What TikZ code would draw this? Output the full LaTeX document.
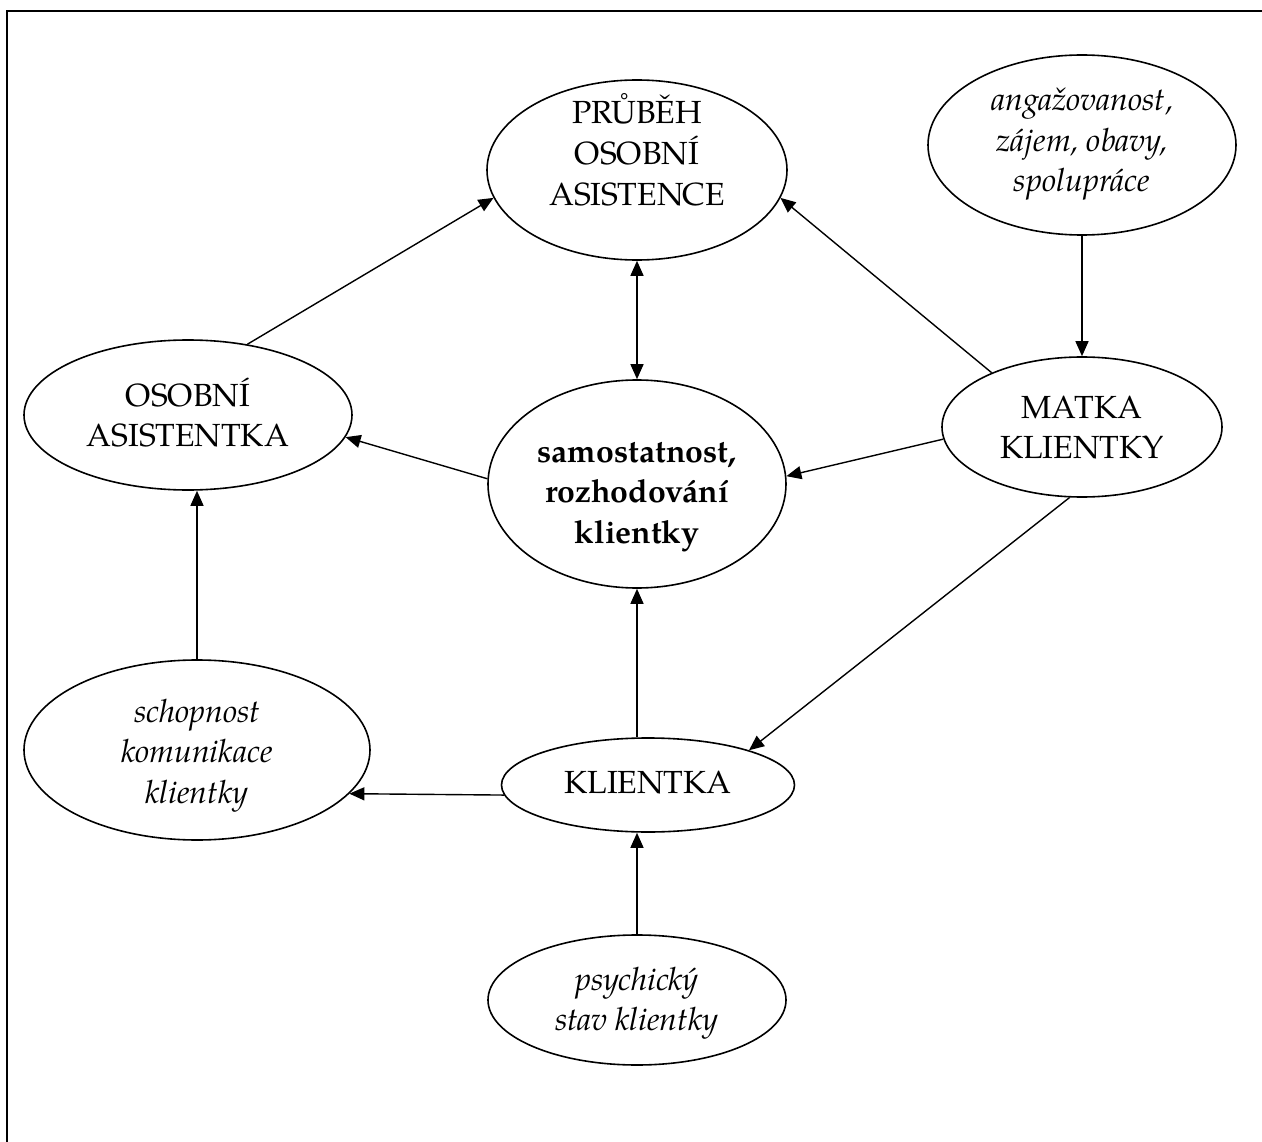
\documentclass[tikz,border=0pt]{standalone}
\usepackage{fontspec}
\setmainfont{TeX Gyre Pagella}
\usetikzlibrary{shapes.geometric,arrows.meta}
\tikzset{
  el/.style={draw, ellipse, line width=1.6pt, inner sep=0pt},
  lbl/.style={anchor=base, inner sep=0pt, font=\fontsize{32}{40.5}\selectfont},
  tip/.tip={Triangle[length=15pt,width=13pt]},
  arr/.style={line width=1.4pt, -tip},
  darr/.style={line width=1.4pt, tip-tip},
}
\newcommand{\lines}[1]{\begin{tabular}[t]{@{}c@{}}#1\end{tabular}}
\begin{document}
\begin{tikzpicture}[x=1pt,y=-1pt]
\useasboundingbox (0,0) rectangle (1262,1142);
\draw[line width=2.5pt] (1262,11) coordinate (tr) -- (7,11) coordinate (tl) -- (7,1142) coordinate (bl);

% ellipses
\node[el, minimum width=300pt, minimum height=180pt] (pa) at (637,170) {};
\node[el, minimum width=308pt, minimum height=180pt] (ang) at (1082,145) {};
\node[el, minimum width=328pt, minimum height=150pt] (oa) at (188,415) {};
\node[el, minimum width=298pt, minimum height=208pt] (sam) at (637,484) {};
\node[el, minimum width=280pt, minimum height=140pt] (mk) at (1082,427) {};
\node[el, minimum width=346pt, minimum height=180pt] (sch) at (197,750) {};
\node[el, minimum width=293pt, minimum height=94pt] (kl) at (648,785) {};
\node[el, minimum width=298pt, minimum height=130pt] (ps) at (637,1000) {};

% texts
\node[lbl] (tpa) at (637,124) {\lines{PRŮBĚH\\OSOBNÍ\\ASISTENCE}};
\node[lbl] (tang) at (1082,111) {\lines{\itshape angažovanost,\\\itshape zájem, obavy,\\\itshape spolupráce}};
\node[lbl] (toa) at (188,406) {\lines{OSOBNÍ\\ASISTENTKA}};
\node[lbl] (tsam) at (637,462) {\lines{\bfseries samostatnost,\\\bfseries rozhodování\\\bfseries klientky}};
\node[lbl] (tmk) at (1082,418) {\lines{MATKA\\KLIENTKY}};
\node[lbl] (tsch) at (197,722) {\lines{\itshape schopnost\\\itshape komunikace\\\itshape klientky}};
\node[lbl] (tkl) at (648,793) {KLIENTKA};
\node[lbl] (tps) at (637,990) {\lines{\itshape psychický\\\itshape stav klientky}};

% connectors
\draw[arr] (oa.50) -- (pa.191);
\draw[darr] (pa.south) -- (sam.north);
\draw[arr] (mk.149) -- (pa.349);
\draw[arr] (ang.south) -- (mk.north);
\draw[arr] (sam.178) -- (oa.352);
\draw[arr] (mk.185) -- (sam.3);
\draw[arr] (mk.260) -- (kl.19);
\draw[arr] (sam.south |- kl.north) -- (sam.south);
\draw[arr] (sch.north) -- (sch.north |- oa.south);
\draw[arr] (kl.184) -- (sch.-16);
\draw[arr] (ps.north) -- (ps.north |- kl.south);
\end{tikzpicture}
\end{document}
